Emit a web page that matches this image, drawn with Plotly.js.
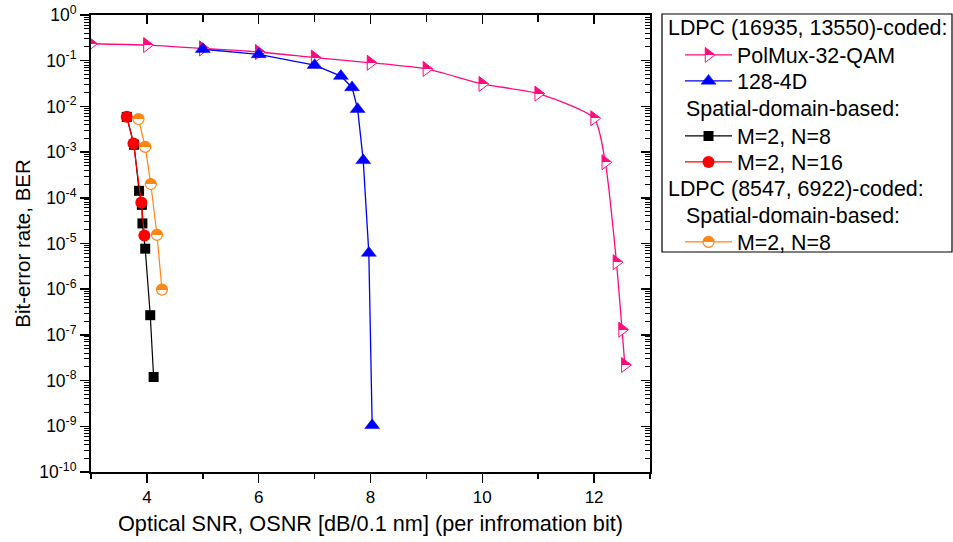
<!DOCTYPE html>
<html>
<head>
<meta charset="utf-8">
<script src="https://cdn.plot.ly/plotly-3.0.1.min.js"></script>
<style>
  html, body { margin: 0; padding: 0; background: #fff; }
  #chart { width: 953px; height: 542px; }
</style>
</head>
<body>
<div id="chart"></div>
<script>
// ---------- data ----------
const osnrPolMux = [3, 4, 5, 6, 7, 8, 9, 10, 11, 12, 12.2, 12.4, 12.5, 12.55];
const berPolMux  = [0.235, 0.22, 0.186, 0.155, 0.117, 0.09, 0.066, 0.031, 0.019, 0.0055, 6.0e-4, 3.9e-6, 1.3e-7, 2.2e-8];

const osnr128 = [5, 6, 7, 7.47, 7.67, 7.77, 7.87, 7.97, 8.03];
const ber128  = [0.178, 0.137, 0.08, 0.046, 0.026, 0.0087, 6.6e-4, 6.2e-6, 1.05e-9];

const osnrM2N8 = [3.64, 3.77, 3.86, 3.91, 3.92, 3.97, 4.06, 4.12];
const berM2N8  = [5.9e-3, 1.45e-3, 1.42e-4, 7.0e-5, 2.75e-5, 7.7e-6, 2.7e-7, 1.2e-8];

const osnrM2N16 = [3.64, 3.76, 3.90, 3.955];
const berM2N16  = [5.9e-3, 1.55e-3, 7.9e-5, 1.5e-5];

const osnrShort = [3.85, 3.97, 4.07, 4.18, 4.27];
const berShort  = [5.3e-3, 1.3e-3, 2.0e-4, 1.55e-5, 9.8e-7];

const seriesNames = ['PolMux-32-QAM', '128-4D', 'M=2, N=8', 'M=2, N=16', 'M=2, N=8'];
const legendHeadings = ['LDPC (16935, 13550)-coded:', 'Spatial-domain-based:', 'LDPC (8547, 6922)-coded:', 'Spatial-domain-based:'];

const xTickVals = [4, 6, 8, 10, 12];
const yExponents = [0, -1, -2, -3, -4, -5, -6, -7, -8, -9, -10];
const yTickVals = yExponents.map(e => Math.pow(10, e));
const yTickText = yExponents.map(e => '10<sup>' + (e < 0 ? '-' : '') + Math.abs(e) + '</sup>');

// ---------- layout geometry ----------
const FIG_W = 953, FIG_H = 542;
const M = { l: 91, r: 303, t: 15, b: 70 };
const PW = FIG_W - M.l - M.r, PH = FIG_H - M.t - M.b;
const PX = px => (px - M.l) / PW;
const PY = py => (M.t + PH - py) / PH;

const FONT = '"Liberation Sans", Arial, sans-serif';
const PINK = '#ff0a7f', BLUE = '#0000ff', RED = '#ff0000', ORANGE = '#ff8614', BLACK = '#000000';
const LEG_SIZE = 21.4;

const data = [
  { x: osnrPolMux, y: berPolMux, name: seriesNames[0], type: 'scatter', mode: 'lines+markers',
    line: { color: PINK, width: 1.3, shape: 'spline', smoothing: 0.6 },
    marker: { symbol: 'triangle-right', size: 13, color: PINK, line: { color: PINK, width: 1 },
              gradient: { type: 'vertical', color: '#ffffff' } },
    legend: 'legend' },
  { x: osnr128, y: ber128, name: seriesNames[1], type: 'scatter', mode: 'lines+markers',
    line: { color: BLUE, width: 1.3 },
    marker: { symbol: 'triangle-up', size: 13, color: BLUE, line: { color: BLUE, width: 0.5 } },
    legend: 'legend2' },
  { x: osnrM2N8, y: berM2N8, name: seriesNames[2], type: 'scatter', mode: 'lines+markers',
    line: { color: BLACK, width: 1.2 },
    marker: { symbol: 'square', size: 10, color: BLACK },
    legend: 'legend3' },
  { x: osnrM2N16, y: berM2N16, name: seriesNames[3], type: 'scatter', mode: 'lines+markers',
    line: { color: RED, width: 1.2 },
    marker: { symbol: 'circle', size: 12, color: RED },
    legend: 'legend4' },
  { x: osnrShort, y: berShort, name: seriesNames[4], type: 'scatter', mode: 'lines+markers',
    line: { color: ORANGE, width: 1.2 },
    marker: { symbol: 'circle', size: 11, color: ORANGE, line: { color: ORANGE, width: 1.2 },
              gradient: { type: 'vertical', color: '#ffffff' } },
    legend: 'legend5' },
  // empty trace that carries the mirrored top/right axes
  { x: [], y: [], xaxis: 'x2', yaxis: 'y2', type: 'scatter', mode: 'markers', showlegend: false, hoverinfo: 'skip' }
];

function legendAt(pyCenter) {
  return {
    x: PX(680), xanchor: 'left', y: PY(pyCenter), yanchor: 'middle',
    bgcolor: 'rgba(0,0,0,0)', borderwidth: 0,
    font: { family: FONT, size: LEG_SIZE, color: '#000' },
    itemwidth: 47, itemclick: false, itemdoubleclick: false
  };
}

const axisFont = { family: FONT, size: 17, color: '#000' };
const headFont = { family: FONT, size: LEG_SIZE, color: '#000' };

const layout = {
  width: FIG_W, height: FIG_H,
  margin: M,
  paper_bgcolor: '#ffffff', plot_bgcolor: '#ffffff',
  font: { family: FONT, color: '#000' },
  showlegend: true,
  xaxis: {
    range: [3, 13], showgrid: false, zeroline: false,
    showline: true, linecolor: '#000', linewidth: 2,
    ticks: 'outside', ticklen: 9, tickwidth: 1.5, tickcolor: '#000',
    tickmode: 'array', tickvals: xTickVals,
    minor: { tickmode: 'linear', tick0: 3, dtick: 1, ticks: 'outside', ticklen: 5, tickwidth: 1.5, tickcolor: '#000', showgrid: false },
    tickfont: axisFont,
    title: { text: 'Optical SNR, OSNR [dB/0.1 nm] (per infromation bit)', font: { family: FONT, size: 21.7, color: '#000' }, standoff: 9 }
  },
  yaxis: {
    type: 'log', range: [-10, 0], showgrid: false, zeroline: false,
    showline: true, linecolor: '#000', linewidth: 2,
    ticks: 'outside', ticklen: 9, tickwidth: 1.5, tickcolor: '#000',
    tickmode: 'array', tickvals: yTickVals, ticktext: yTickText,
    minor: { dtick: 'D1', ticks: 'outside', ticklen: 5, tickwidth: 1, tickcolor: '#000', showgrid: false },
    tickfont: { family: FONT, size: 17.5, color: '#000' },
    title: { text: 'Bit-error rate, BER', font: { family: FONT, size: 20.5, color: '#000' }, standoff: 3 }
  },
  xaxis2: {
    overlaying: 'x', side: 'top', anchor: 'y2', range: [3, 13],
    showgrid: false, zeroline: false, showline: true, linecolor: '#000', linewidth: 2,
    ticks: 'inside', ticklen: 9, tickwidth: 1.5, tickcolor: '#000', showticklabels: false,
    tickmode: 'array', tickvals: xTickVals,
    minor: { tickmode: 'linear', tick0: 3, dtick: 1, ticks: 'inside', ticklen: 7, tickwidth: 1.5, tickcolor: '#000', showgrid: false }
  },
  yaxis2: {
    overlaying: 'y', side: 'right', anchor: 'x2', type: 'log', range: [-10, 0],
    showgrid: false, zeroline: false, showline: true, linecolor: '#000', linewidth: 2,
    ticks: 'inside', ticklen: 9, tickwidth: 1.5, tickcolor: '#000', showticklabels: false,
    tickmode: 'array', tickvals: yTickVals,
    minor: { dtick: 'D1', ticks: 'inside', ticklen: 5, tickwidth: 1, tickcolor: '#000', showgrid: false }
  },
  legend: legendAt(55),
  legend2: legendAt(81),
  legend3: legendAt(136),
  legend4: legendAt(162),
  legend5: legendAt(242),
  shapes: [
    { type: 'rect', xref: 'paper', yref: 'paper', x0: PX(662), x1: PX(952), y0: PY(252), y1: PY(14),
      line: { color: '#000', width: 1.2 }, fillcolor: 'rgba(0,0,0,0)', layer: 'below' }
  ],
  annotations: [
    { text: legendHeadings[0], xref: 'paper', yref: 'paper', x: PX(666), y: PY(28), xanchor: 'left', yanchor: 'middle', showarrow: false, font: headFont },
    { text: legendHeadings[1], xref: 'paper', yref: 'paper', x: PX(684), y: PY(109), xanchor: 'left', yanchor: 'middle', showarrow: false, font: headFont },
    { text: legendHeadings[2], xref: 'paper', yref: 'paper', x: PX(666), y: PY(189), xanchor: 'left', yanchor: 'middle', showarrow: false, font: headFont },
    { text: legendHeadings[3], xref: 'paper', yref: 'paper', x: PX(684), y: PY(216), xanchor: 'left', yanchor: 'middle', showarrow: false, font: headFont }
  ]
};

Plotly.newPlot('chart', data, layout, { staticPlot: true, displayModeBar: false, responsive: false })
  .then(function (gd) {
    // make the vertical marker gradients a hard split: top half coloured, bottom half white
    gd.querySelectorAll('linearGradient').forEach(function (g) {
      const stops = g.querySelectorAll('stop');
      if (stops.length === 2) {
        stops[0].setAttribute('offset', '50%');
        stops[1].setAttribute('offset', '50%');
      }
    });
  });
</script>
</body>
</html>
